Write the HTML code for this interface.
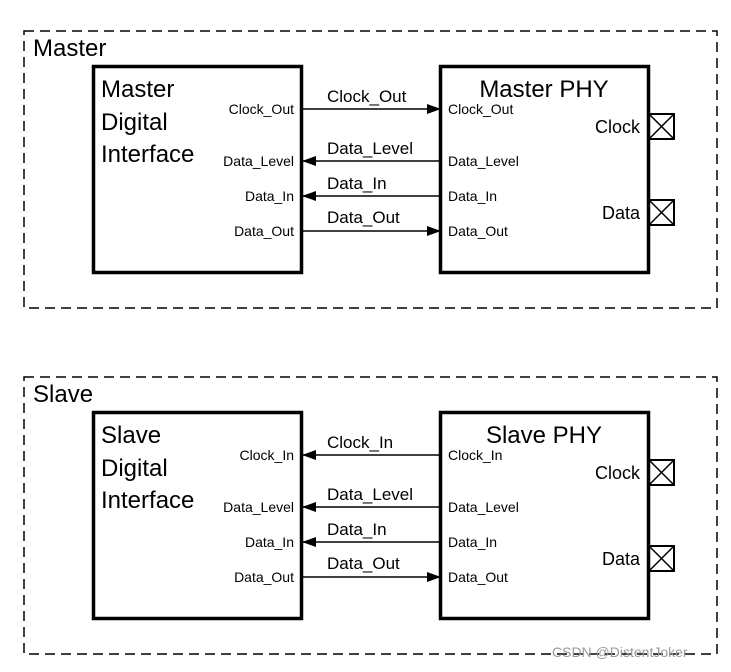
<!DOCTYPE html>
<html><head><style>body{margin:0;background:#fff}</style></head><body>
<svg width="731" height="667" xmlns="http://www.w3.org/2000/svg" font-family="Liberation Sans, sans-serif">
<defs>
<marker id="a" markerWidth="14" markerHeight="10" refX="13" refY="5" orient="auto" markerUnits="userSpaceOnUse"><path d="M0,0 L14,5 L0,10 Z" fill="#000"/></marker>
</defs>
<g id="m">
<rect x="24" y="31" width="693" height="277" fill="none" stroke="#000" stroke-width="1.5" stroke-dasharray="10,6"/>
<text x="33" y="56" font-size="24">Master</text>
<rect x="93.5" y="66.5" width="208" height="206" fill="none" stroke="#000" stroke-width="3.5"/>
<rect x="440.5" y="66.5" width="208" height="206" fill="none" stroke="#000" stroke-width="3.5"/>
<text x="101" y="97" font-size="24">Master</text>
<text x="101" y="130" font-size="24">Digital</text>
<text x="101" y="162" font-size="24">Interface</text>
<g font-size="14" text-anchor="end">
<text x="294" y="114">Clock_Out</text>
<text x="294" y="166">Data_Level</text>
<text x="294" y="201">Data_In</text>
<text x="294" y="236">Data_Out</text>
</g>
<text x="544" y="97" font-size="24" text-anchor="middle">Master PHY</text>
<g font-size="14">
<text x="448" y="114">Clock_Out</text>
<text x="448" y="166">Data_Level</text>
<text x="448" y="201">Data_In</text>
<text x="448" y="236">Data_Out</text>
</g>
<g font-size="18" text-anchor="end"><text x="640" y="133">Clock</text><text x="640" y="219">Data</text></g>
<g stroke="#000" stroke-width="1.5" fill="none">
<rect x="649" y="114" width="25" height="25" stroke-width="2"/><path d="M649,114 L674,139 M674,114 L649,139"/>
<rect x="649" y="200" width="25" height="25" stroke-width="2"/><path d="M649,200 L674,225 M674,200 L649,225"/>
<line x1="303" y1="109" x2="440" y2="109" marker-end="url(#a)"/>
<line x1="440" y1="161" x2="303" y2="161" marker-end="url(#a)"/>
<line x1="440" y1="196" x2="303" y2="196" marker-end="url(#a)"/>
<line x1="303" y1="231" x2="440" y2="231" marker-end="url(#a)"/>
</g>
<g font-size="17"><text x="327" y="102">Clock_Out</text><text x="327" y="154">Data_Level</text><text x="327" y="189">Data_In</text><text x="327" y="223">Data_Out</text></g>
</g>
<g transform="translate(0,346)">
<rect x="24" y="31" width="693" height="277" fill="none" stroke="#000" stroke-width="1.5" stroke-dasharray="10,6"/>
<text x="33" y="56" font-size="24">Slave</text>
<rect x="93.5" y="66.5" width="208" height="206" fill="none" stroke="#000" stroke-width="3.5"/>
<rect x="440.5" y="66.5" width="208" height="206" fill="none" stroke="#000" stroke-width="3.5"/>
<text x="101" y="97" font-size="24">Slave</text>
<text x="101" y="130" font-size="24">Digital</text>
<text x="101" y="162" font-size="24">Interface</text>
<g font-size="14" text-anchor="end">
<text x="294" y="114">Clock_In</text>
<text x="294" y="166">Data_Level</text>
<text x="294" y="201">Data_In</text>
<text x="294" y="236">Data_Out</text>
</g>
<text x="544" y="97" font-size="24" text-anchor="middle">Slave PHY</text>
<g font-size="14">
<text x="448" y="114">Clock_In</text>
<text x="448" y="166">Data_Level</text>
<text x="448" y="201">Data_In</text>
<text x="448" y="236">Data_Out</text>
</g>
<g font-size="18" text-anchor="end"><text x="640" y="133">Clock</text><text x="640" y="219">Data</text></g>
<g stroke="#000" stroke-width="1.5" fill="none">
<rect x="649" y="114" width="25" height="25" stroke-width="2"/><path d="M649,114 L674,139 M674,114 L649,139"/>
<rect x="649" y="200" width="25" height="25" stroke-width="2"/><path d="M649,200 L674,225 M674,200 L649,225"/>
<line x1="440" y1="109" x2="303" y2="109" marker-end="url(#a)"/>
<line x1="440" y1="161" x2="303" y2="161" marker-end="url(#a)"/>
<line x1="440" y1="196" x2="303" y2="196" marker-end="url(#a)"/>
<line x1="303" y1="231" x2="440" y2="231" marker-end="url(#a)"/>
</g>
<g font-size="17"><text x="327" y="102">Clock_In</text><text x="327" y="154">Data_Level</text><text x="327" y="189">Data_In</text><text x="327" y="223">Data_Out</text></g>
</g>
<text x="552" y="657" font-size="14" fill="#999">CSDN @DistentJoker</text>
</svg>
</body></html>
